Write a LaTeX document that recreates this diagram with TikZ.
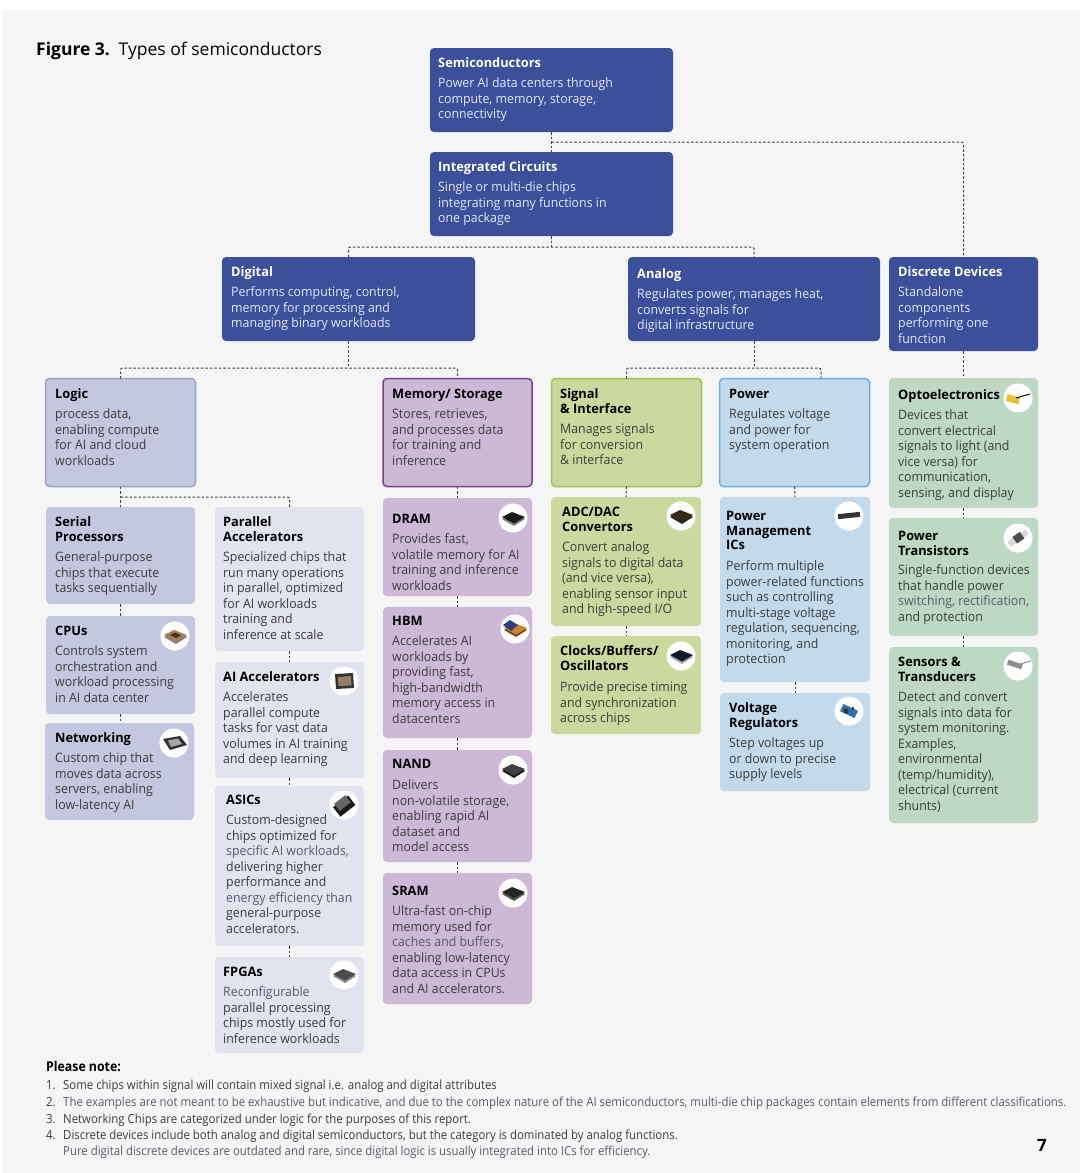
\documentclass[tikz,border=0pt]{standalone}
\usepackage{fontspec}
\setmainfont{Open Sans}
\newfontfamily\bodyfont[FakeStretch=0.95]{Open Sans}
\newfontfamily\headfont[FakeStretch=0.985]{Open Sans}
\newfontfamily\notefont[FakeStretch=0.912]{Open Sans}
\definecolor{pagebg}{HTML}{F5F5F5}
\definecolor{navy}{HTML}{3B4F9B}
\definecolor{navytxt}{HTML}{E4E8F4}
\definecolor{logicfill}{HTML}{C3C8E0}
\definecolor{logicline}{HTML}{9AA3C4}
\definecolor{parafill}{HTML}{E1E3EF}
\definecolor{memfill}{HTML}{CDB9D6}
\definecolor{memline}{HTML}{7B3F8F}
\definecolor{sigfill}{HTML}{CBD99E}
\definecolor{sigline}{HTML}{A3C04E}
\definecolor{powfill}{HTML}{C2DAEB}
\definecolor{powline}{HTML}{6CB0E6}
\definecolor{discfill}{HTML}{BDD8C3}
\definecolor{bodytxt}{HTML}{3C3C3C}
\definecolor{paletxt}{HTML}{585B6A}
\tikzset{
	card/.style 2 args={rectangle, rounded corners=4pt, anchor=north west, inner sep=0pt, outer sep=0pt, minimum width=#1, minimum height=#2},
	head/.style={anchor=north west, inner sep=0pt, align=left, font=\fontsize{13}{14.6}\headfont\bfseries},
	body/.style={anchor=north west, inner sep=0pt, align=left, font=\fontsize{13}{15.5}\bodyfont},
	link/.style={dash pattern=on 2.5pt off 2pt, line width=1pt, color=black!75},
	note/.style={anchor=west, inner sep=0pt, font=\fontsize{12.5}{14}\notefont, text=bodytxt},
	dark/.style={fill=navy},
	logic/.style={fill=logicfill},
	logictop/.style={fill=logicfill, draw=logicline, line width=1.5pt},
	para/.style={fill=parafill},
	mem/.style={fill=memfill},
	memtop/.style={fill=memfill, draw=memline, line width=1.5pt},
	sig/.style={fill=sigfill},
	sigtop/.style={fill=sigfill, draw=sigline, line width=1.5pt},
	pow/.style={fill=powfill},
	powtop/.style={fill=powfill, draw=powline, line width=1.5pt},
	disc/.style={fill=discfill},
	icon/.style={circle, fill=white, inner sep=0pt, minimum size=29pt}
}
\newcommand{\pale}[1]{\textcolor{paletxt}{#1}}
\newcommand{\numbered}[2]{\makebox[17pt][l]{#1}#2}
% title and description of one box
\newcommand{\cardtext}[6]{
	\node[head] (#1-h) at (#2,#3+2.5) {\strut #5};
	\node[body, text=bodytxt] (#1-b) at (#2,#4+1.3) {\strut #6};
}
\newcommand{\darktext}[6]{
	\node[head, text=white] (#1-h) at (#2,#3+2.5) {\strut #5};
	\node[body, text=navytxt] (#1-b) at (#2,#4+1.3) {\strut #6};
}
% white disc with a small chip
\newcommand{\chipicon}[5]{
	\node[icon] (#1) at (#2,#3) {};
	\fill[#5] (#2-11,#3+1) -- (#2+1,#3+8) -- (#2+12,#3+1) -- (#2+1,#3-5) -- cycle;
	\fill[#4] (#2-11,#3-1) -- (#2-1,#3-6) -- (#2+12,#3-1) -- (#2+1,#3+5.5) -- cycle;
}
\begin{document}
\begin{tikzpicture}[x=1pt, y=-1pt]
	\useasboundingbox (0,0) rectangle (1080,1173);
	\fill[pagebg] (2,10) rectangle (1080,1173);

	\node[anchor=west, inner sep=0pt, font=\fontsize{17.5}{20}\selectfont] (figtitle) at (36,51.3) {\textbf{Figure 3.}\hspace{0.5em}Types of semiconductors};

	% upper levels
	\node[card={243pt}{84pt}, dark] (semi) at (430,48) {};
	\darktext{semi}{438}{54.5}{75.5}{Semiconductors}{Power AI data centers through\\compute, memory, storage,\\connectivity}
	\node[card={243pt}{84pt}, dark] (ic) at (430,152) {};
	\darktext{ic}{438}{158.5}{179.5}{Integrated Circuits}{Single or multi-die chips\\integrating many functions in\\one package}
	\node[card={253pt}{84pt}, dark] (digital) at (222,257) {};
	\darktext{digital}{231}{263.5}{284.5}{Digital}{Performs computing, control,\\memory for processing and\\managing binary workloads}
	\node[card={252pt}{84pt}, dark] (analog) at (628,257) {};
	\darktext{analog}{637}{265.5}{286.5}{Analog}{Regulates power, manages heat,\\converts signals for\\digital infrastructure}
	\node[card={149pt}{94pt}, dark] (discrete) at (889,257) {};
	\darktext{discrete}{898}{263.5}{284.5}{Discrete Devices}{Standalone\\components\\performing one\\function}

	% logic
	\node[card={150pt}{108pt}, logictop] (logic) at (45.5,378.5) {};
	\cardtext{logic}{55}{385.5}{406.5}{Logic}{process data,\\enabling compute\\for AI and cloud\\workloads}
	\node[card={149pt}{97pt}, logic] (serial) at (46,507) {};
	\cardtext{serial}{55}{513.5}{549.5}{Serial\\Processors}{General-purpose\\chips that execute\\tasks sequentially}
	\node[card={149pt}{98pt}, logic] (cpu) at (46,616) {};
	\cardtext{cpu}{55}{622.5}{643.5}{CPUs}{Controls system\\orchestration and\\workload processing\\in AI data center}
	\node[card={149pt}{97pt}, logic] (net) at (45,723) {};
	\cardtext{net}{55}{729.5}{750.5}{Networking}{Custom chip that\\moves data across\\servers, enabling\\low-latency AI}
	\node[card={149pt}{144pt}, para] (parallel) at (215,507) {};
	\cardtext{parallel}{223}{513.5}{549.5}{Parallel\\Accelerators}{Specialized chips that\\run many operations\\in parallel, optimized\\for AI workloads\\training and\\inference at scale}
	\node[card={149pt}{116pt}, para] (aiacc) at (215,662) {};
	\cardtext{aiacc}{223}{668.5}{689.5}{AI Accelerators}{Accelerates\\parallel compute\\tasks for vast data\\volumes in AI training\\and deep learning}
	\node[card={149pt}{160pt}, para] (asic) at (215,786) {};
	\cardtext{asic}{226}{791.5}{812.5}{ASICs}{Custom-designed\\chips optimized for\\\pale{specific AI workloads,}\\delivering higher\\performance and\\\pale{energy efficiency than}\\general-purpose\\accelerators.}
	\node[card={149pt}{96pt}, para] (fpga) at (215,957) {};
	\cardtext{fpga}{223}{963.5}{984.5}{FPGAs}{\pale{Reconfigurable}\\parallel processing\\chips mostly used for\\inference workloads}

	% memory
	\node[card={149pt}{108pt}, memtop] (memory) at (383,378.5) {};
	\cardtext{memory}{392}{385.5}{406.5}{Memory/ Storage}{Stores, retrieves,\\and processes data\\for training and\\inference}
	\node[card={149pt}{98pt}, mem] (dram) at (383,498) {};
	\cardtext{dram}{392}{510.5}{531.5}{DRAM}{Provides fast,\\volatile memory for AI\\training and inference\\workloads}
	\node[card={149pt}{131pt}, mem] (hbm) at (383,607) {};
	\cardtext{hbm}{392}{612.5}{633.5}{HBM}{Accelerates AI\\workloads by\\providing fast,\\high-bandwidth\\memory access in\\datacenters}
	\node[card={149pt}{112pt}, mem] (nand) at (383,750) {};
	\cardtext{nand}{392}{755.5}{777.5}{NAND}{Delivers\\non-volatile storage,\\enabling rapid AI\\dataset and\\model access}
	\node[card={149pt}{131pt}, mem] (sram) at (383,873) {};
	\cardtext{sram}{392}{882.5}{903.5}{SRAM}{Ultra-fast on-chip\\memory used for\\\pale{caches and buffers,}\\enabling low-latency\\data access in CPUs\\and AI accelerators.}

	% signal and power
	\node[card={150pt}{108pt}, sigtop] (signal) at (551.5,378.5) {};
	\cardtext{signal}{560}{385.5}{421.5}{Signal\\\& Interface}{Manages signals\\for conversion\\\& interface}
	\node[card={150pt}{129pt}, sig] (adc) at (551,497) {};
	\cardtext{adc}{562}{503.5}{539.5}{ADC/DAC\\Convertors}{Convert analog\\signals to digital data\\(and vice versa),\\enabling sensor input\\and high-speed I/O}
	\node[card={150pt}{98pt}, sig] (clock) at (551,636) {};
	\cardtext{clock}{560}{642.5}{679.5}{Clocks/Buffers/\\Oscillators}{Provide precise timing\\and synchronization\\across chips}
	\node[card={150pt}{108pt}, powtop] (power) at (719.5,378.5) {};
	\cardtext{power}{729}{385.5}{406.5}{Power}{Regulates voltage\\and power for\\system operation}
	\node[card={150pt}{185pt}, pow] (pmic) at (720,497) {};
	\cardtext{pmic}{726}{507.5}{558.5}{Power\\Management\\ICs}{Perform multiple\\power-related functions\\such as controlling\\multi-stage voltage\\regulation, sequencing,\\monitoring, and\\protection}
	\node[card={150pt}{98pt}, pow] (vreg) at (720,693) {};
	\cardtext{vreg}{729}{699.5}{735.5}{Voltage\\Regulators}{Step voltages up\\or down to precise\\supply levels}

	% discrete
	\node[card={149pt}{130pt}, disc] (opto) at (889,378) {};
	\cardtext{opto}{898}{386.5}{407.5}{Optoelectronics}{Devices that\\convert electrical\\signals to light (and\\vice versa) for\\communication,\\sensing, and display}
	\node[card={149pt}{118pt}, disc] (ptrans) at (889,518) {};
	\cardtext{ptrans}{898}{527.5}{562.5}{Power\\Transistors}{Single-function devices\\that handle power\\\pale{switching, rectification,}\\and protection}
	\node[card={149pt}{176pt}, disc] (sensor) at (889,647) {};
	\cardtext{sensor}{898}{653.5}{689.5}{Sensors \&\\Transducers}{Detect and convert\\signals into data for\\system monitoring.\\Examples,\\environmental\\(temp/humidity),\\electrical (current\\shunts)}

	% chips
	\chipicon{cpuic}{175}{636}{brown!60!gray}{gray}
	\fill[black!60!brown] (170,635) -- (175,632.5) -- (181,635.5) -- (176,638) -- cycle;
	\node[icon] (netic) at (174,743) {};
	\fill[black!80] (163,739) -- (180,736) -- (187,745) -- (170,750) -- cycle;
	\fill[black!35] (168,740.5) -- (178,738.5) -- (182,744) -- (171,747) -- cycle;
	\node[icon] (aiic) at (344,681) {};
	\fill[black!80] (335,674) -- (353,673) -- (354,688) -- (336,689) -- cycle;
	\fill[brown!55!black!70] (338,677) -- (351,676) -- (351.5,685.5) -- (338.5,686) -- cycle;
	\node[icon] (asicic) at (344,805) {};
	\fill[black!90, rotate around={38:(344,805)}] (334,800) rectangle (353,812);
	\fill[black!60, rotate around={38:(344,805)}] (337,798) rectangle (351,807);
	\chipicon{fpgaic}{344}{975}{black!70}{black!45}
	\chipicon{dramic}{513}{518}{black!90}{black!50}
	\chipicon{hbmic}{515}{629}{brown!70!orange}{brown!60!black}
	\fill[navy!80!black] (503,625) -- (510,620) -- (518,625) -- (511,631) -- cycle;
	\chipicon{nandic}{513}{770}{black!75}{black!90}
	\chipicon{sramic}{513}{893}{black!85}{black!65}
	\chipicon{adcic}{681}{516}{black!70!brown}{black!85}
	\chipicon{clockic}{681}{656}{navy!30!black}{black!35}
	\node[icon] (pmicic) at (849,516) {};
	\fill[black!80, rotate around={6:(849,516)}] (838,513) rectangle (860,518);
	\node[icon] (vregic) at (849,711) {};
	\fill[navy!80!cyan, rotate around={-25:(849,711)}] (841,707) rectangle (857,715);
	\fill[black!80] (846,711) circle (2.5) (853,708) circle (1.5);
	\node[icon] (ptransic) at (1018,538) {};
	\fill[black!15, rotate around={35:(1018,538)}] (1007,535) rectangle (1029,541);
	\fill[black!70, rotate around={35:(1018,538)}] (1014,534) rectangle (1023,542);
	\node[icon] (optoic) at (1018,398) {};
	\fill[yellow!55!brown, rotate around={-15:(1018,398)}] (1007,397) rectangle (1020,404);
	\draw[black, line width=1pt] (1016,398) -- (1030,394);
	\node[icon] (sensoric) at (1018,666) {};
	\fill[black!45, rotate around={-18:(1018,666)}] (1007,663) rectangle (1022,668);
	\draw[black!55, line width=0.8pt] (1020,664) -- (1031,661);

	% junctions
	\coordinate (semijct) at (551.5,142);
	\coordinate (icjct) at (551.5,247);
	\coordinate (digjct) at (348.5,368);
	\coordinate (anajct) at (754,368);
	\coordinate (logjct) at (120.5,497);
	\coordinate (powtop) at (821,378);

	\draw[link] (semi.south) -- (ic.north);
	\draw[link, rounded corners=2pt] (semijct) -| (discrete.north);
	\draw[link] (ic.south) -- (icjct);
	\draw[link, rounded corners=2pt] (digital.north) |- (icjct) -| (analog.north);
	\draw[link] (digital.south) -- (digjct);
	\draw[link, rounded corners=2pt] (logic.north) |- (digjct) -| (memory.north);
	\draw[link] (analog.south) -- (anajct);
	\draw[link, rounded corners=2pt] (signal.north) |- (anajct) -| (powtop);
	\draw[link] (discrete.south) -- (opto.north);
	\draw[link] (opto.south) -- (ptrans.north);
	\draw[link] (ptrans.south) -- (sensor.north);
	\draw[link] (logic.south) -- (serial.north);
	\draw[link, rounded corners=2pt] (logjct) -| (parallel.north);
	\draw[link] (serial.south) -- (cpu.north);
	\draw[link] (cpu.south) -- (cpu.south |- net.north);
	\draw[link] (parallel.south) -- (aiacc.north);
	\draw[link] (aiacc.south) -- (asic.north);
	\draw[link] (asic.south) -- (fpga.north);
	\draw[link] (memory.south) -- (dram.north);
	\draw[link] (dram.south) -- (hbm.north);
	\draw[link] (hbm.south) -- (nand.north);
	\draw[link] (nand.south) -- (sram.north);
	\draw[link] (signal.south) -- (adc.north);
	\draw[link] (adc.south) -- (clock.north);
	\draw[link] (power.south) -- (pmic.north);
	\draw[link] (pmic.south) -- (vreg.north);

	% notes
	\node[anchor=west, inner sep=0pt, font=\fontsize{13.5}{15}\notefont\bfseries] (pnote) at (46,1066) {Please note:};
	\node[note] (n1) at (46,1086.5) {\numbered{1.}{Some chips within signal will contain mixed signal i.e. analog and digital attributes}};
	\node[note] (n2) at (46,1103.5) {\numbered{2.}{\pale{The examples are not meant to be exhaustive but indicative, and due to the complex nature of the AI semiconductors, multi-die chip packages contain elements from different classifications.}}};
	\node[note] (n3) at (46,1120.5) {\numbered{3.}{Networking Chips are categorized under logic for the purposes of this report.}};
	\node[note] (n4) at (46,1136.5) {\numbered{4.}{Discrete devices include both analog and digital semiconductors, but the category is dominated by analog functions.}};
	\node[note, text=paletxt] (n5) at (63,1152.5) {Pure digital discrete devices are outdated and rare, since digital logic is usually integrated into ICs for efficiency.};
	\node[anchor=center, inner sep=0pt, font=\fontsize{17}{20}\selectfont\bfseries] (pageno) at (1042,1145) {7};
\end{tikzpicture}
\end{document}
